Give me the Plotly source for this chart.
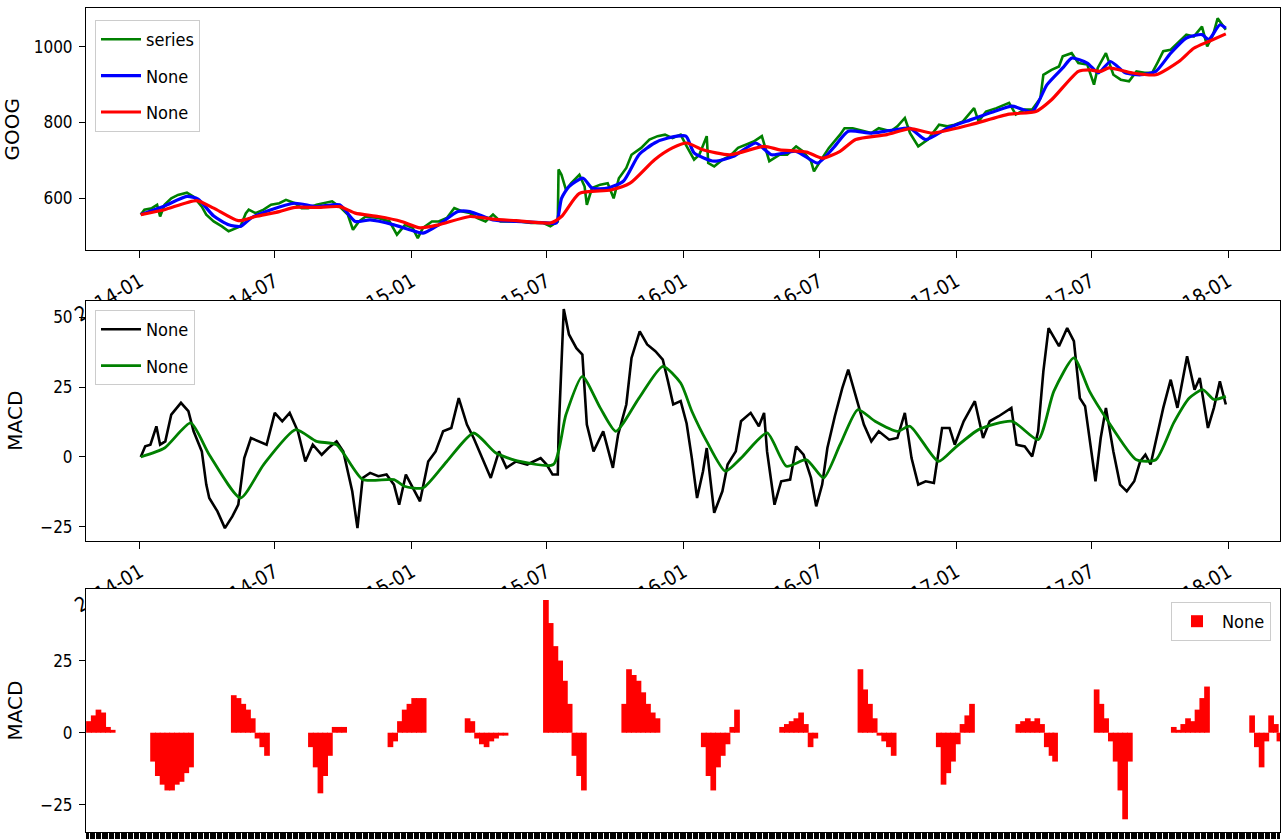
import plotly.graph_objects as go

# ---------------- data ----------------
price_dates = ["2014-01-02","2014-01-07","2014-01-17","2014-01-24","2014-01-28","2014-02-03","2014-02-12","2014-02-21",
"2014-03-05","2014-03-14","2014-03-25","2014-03-31","2014-04-10","2014-04-21","2014-04-30","2014-05-05","2014-05-16",
"2014-05-23","2014-05-27","2014-06-05","2014-06-16","2014-06-26","2014-07-07","2014-07-16","2014-07-28","2014-08-06",
"2014-08-15","2014-08-26","2014-09-05","2014-09-16","2014-09-26","2014-10-07","2014-10-14","2014-10-22","2014-10-31",
"2014-11-17","2014-12-02","2014-12-12","2014-12-23","2015-01-02","2015-01-09","2015-01-16","2015-01-28","2015-02-06",
"2015-02-17","2015-02-27","2015-03-10","2015-03-20","2015-03-30","2015-04-10","2015-04-20","2015-04-30","2015-05-11",
"2015-05-26","2015-06-10","2015-06-26","2015-07-06","2015-07-16","2015-07-17","2015-07-21","2015-07-27","2015-08-03",
"2015-08-14","2015-08-21","2015-08-24","2015-08-31","2015-09-11","2015-09-21","2015-09-29","2015-10-06","2015-10-16",
"2015-10-23","2015-11-05","2015-11-16","2015-11-27","2015-12-07","2015-12-17","2015-12-28","2016-01-04","2016-01-15",
"2016-01-22","2016-02-01","2016-02-03","2016-02-11","2016-02-22","2016-03-03","2016-03-14","2016-03-23","2016-04-04",
"2016-04-15","2016-04-25","2016-05-09","2016-05-19","2016-05-31","2016-06-09","2016-06-20","2016-06-24","2016-07-05",
"2016-07-14","2016-07-29","2016-08-04","2016-08-15","2016-08-30","2016-09-09","2016-09-19","2016-10-05","2016-10-14",
"2016-10-24","2016-10-31","2016-11-11","2016-11-24","2016-12-09","2016-12-20","2016-12-30","2017-01-10","2017-01-25",
"2017-01-31","2017-02-10","2017-02-24","2017-03-13","2017-03-22","2017-04-03","2017-04-13","2017-04-24","2017-04-28",
"2017-05-09","2017-05-19","2017-05-24","2017-06-05","2017-06-14","2017-06-26","2017-07-05","2017-07-10","2017-07-21",
"2017-07-31","2017-08-10","2017-08-21","2017-08-31","2017-09-11","2017-09-21","2017-09-28","2017-10-06","2017-10-16",
"2017-10-27","2017-11-06","2017-11-16","2017-11-27","2017-12-04","2017-12-12","2017-12-18","2017-12-26","2017-12-29"]
price_vals = [557,570,574,583,552,583,600,609,
615,604,578,557,539,526,513,517,526,
560,570,561,570,583,587,596,587,574,
574,583,587,592,578,557,517,539,552,
548,539,504,530,522,495,522,539,539,
548,574,565,561,548,539,557,539,539,
539,535,535,526,539,676,662,622,640,
662,631,583,627,636,640,600,653,680,
715,733,755,764,768,759,768,741,702,
715,764,693,684,702,711,733,741,750,
764,698,715,715,737,724,698,671,706,
733,768,785,785,777,772,785,777,790,
812,772,737,755,794,790,794,803,838,
803,829,838,852,821,834,834,864,926,
939,948,975,983,957,953,900,944,983,
926,913,909,935,931,931,957,988,992,
1014,1032,1027,1053,1001,1032,1075,1053,1045]

fast_dates = ["2014-01-02","2014-02-03","2014-03-05","2014-03-20","2014-04-10","2014-04-30","2014-05-16","2014-05-30",
"2014-06-26","2014-07-28","2014-08-26","2014-09-26","2014-10-17","2014-11-06","2014-12-08","2014-12-29","2015-01-16",
"2015-02-06","2015-03-04","2015-03-20","2015-04-20","2015-05-21","2015-07-01","2015-07-14","2015-07-21","2015-07-31",
"2015-08-19","2015-08-31","2015-09-21","2015-10-12","2015-11-02","2015-11-23","2015-12-11","2016-01-04","2016-01-15",
"2016-02-11","2016-03-08","2016-04-07","2016-04-28","2016-05-31","2016-06-29","2016-07-20","2016-08-09","2016-09-09",
"2016-10-10","2016-10-31","2016-11-21","2016-12-20","2017-01-20","2017-02-21","2017-03-17","2017-04-13","2017-05-03",
"2017-05-24","2017-06-05","2017-06-26","2017-07-11","2017-07-27","2017-08-16","2017-09-06","2017-09-26","2017-10-16",
"2017-11-06","2017-11-27","2017-12-06","2017-12-21","2017-12-29"]
fast_vals = [557,580,605,598,553,530,526,548,
570,587,578,583,539,543,530,517,508,
530,565,565,543,539,535,535,600,631,
653,627,627,645,715,746,759,764,720,
698,711,746,715,724,693,733,777,772,
781,785,755,785,807,829,843,829,900,
944,970,957,931,961,931,926,935,983,
1023,1032,1019,1058,1049]

slow_dates = ["2014-01-02","2014-02-03","2014-03-18","2014-04-10","2014-05-13","2014-06-05","2014-07-07","2014-07-28",
"2014-08-26","2014-09-26","2014-10-17","2014-11-17","2014-12-18","2015-01-12","2015-02-06","2015-03-20","2015-04-20",
"2015-05-21","2015-07-06","2015-07-21","2015-08-14","2015-09-25","2015-10-21","2015-11-23","2015-12-17","2016-01-05",
"2016-01-27","2016-03-03","2016-04-18","2016-05-09","2016-06-14","2016-07-05","2016-07-29","2016-08-19","2016-09-30",
"2016-10-31","2016-11-30","2017-01-20","2017-03-13","2017-04-18","2017-05-09","2017-06-14","2017-06-29","2017-07-14",
"2017-07-25","2017-08-25","2017-09-26","2017-10-27","2017-11-16","2017-12-06","2017-12-29"]
slow_vals = [557,570,594,574,541,552,565,576,
576,578,561,552,539,522,530,552,545,
541,535,552,613,622,640,702,733,746,
728,715,737,728,722,706,724,755,768,
784,772,794,822,829,860,935,939,935,
944,931,926,961,996,1014,1034]

macd_dates = ["2014-01-02","2014-01-08","2014-01-15","2014-01-23","2014-01-28","2014-02-04","2014-02-12","2014-02-25",
"2014-03-07","2014-03-14","2014-03-25","2014-03-31","2014-04-04","2014-04-15","2014-04-25","2014-05-05","2014-05-13",
"2014-05-21","2014-05-30","2014-06-10","2014-06-20","2014-07-01","2014-07-11","2014-07-21","2014-08-01","2014-08-11",
"2014-08-21","2014-09-02","2014-09-11","2014-09-22","2014-10-01","2014-10-13","2014-10-20","2014-10-27","2014-11-06",
"2014-11-17","2014-11-28","2014-12-08","2014-12-15","2014-12-24","2015-01-02","2015-01-12","2015-01-23","2015-02-02",
"2015-02-12","2015-02-23","2015-03-05","2015-03-16","2015-03-25","2015-04-06","2015-04-17","2015-04-28","2015-05-08",
"2015-05-21","2015-06-05","2015-06-23","2015-07-01","2015-07-09","2015-07-16","2015-07-17","2015-07-24","2015-07-31",
"2015-08-10","2015-08-18","2015-08-24","2015-09-02","2015-09-15","2015-09-28","2015-10-05","2015-10-16","2015-10-23",
"2015-11-03","2015-11-13","2015-11-24","2015-12-04","2015-12-11","2015-12-18","2015-12-28","2016-01-05","2016-01-12",
"2016-01-19","2016-01-27","2016-02-01","2016-02-11","2016-02-22","2016-02-29","2016-03-11","2016-03-18","2016-03-31",
"2016-04-11","2016-04-18","2016-04-22","2016-05-02","2016-05-11","2016-05-23","2016-05-31","2016-06-10","2016-06-20",
"2016-06-27","2016-07-05","2016-07-12","2016-07-22","2016-08-01","2016-08-09","2016-08-19","2016-08-30","2016-09-09",
"2016-09-19","2016-10-03","2016-10-14","2016-10-24","2016-11-02","2016-11-11","2016-11-21","2016-12-02","2016-12-13",
"2016-12-23","2016-12-30","2017-01-11","2017-01-26","2017-02-06","2017-02-15","2017-02-27","2017-03-06","2017-03-16",
"2017-03-23","2017-04-03","2017-04-13","2017-04-21","2017-04-28","2017-05-05","2017-05-19","2017-05-30","2017-06-08",
"2017-06-16","2017-06-23","2017-07-07","2017-07-14","2017-07-21","2017-07-31","2017-08-09","2017-08-18","2017-08-28",
"2017-09-05","2017-09-12","2017-09-19","2017-09-29","2017-10-06","2017-10-16","2017-10-25","2017-11-07","2017-11-17",
"2017-11-24","2017-12-05","2017-12-13","2017-12-21","2017-12-29"]
macd_vals = [0,3.8,4.4,11,4.4,5.6,15.2,19.4,
16.4,9.2,2,-9.9,-14.7,-19.5,-25.5,-21.3,-17.1,
-0.4,6.8,5.6,4.4,15.8,12.8,15.8,9.2,-1.6,
4.4,0.8,3.2,5.6,2,-12.3,-25.5,-7.5,-5.7,
-6.9,-6.3,-9.9,-17.1,-6.3,-11.1,-15.9,-1.6,2,
9.2,10.4,21.1,11.6,6.8,-0.4,-7.5,2,-3.9,
-1.6,-2.7,-0.4,-2.7,-6.3,-6.3,8,53,43.9,
39,36.7,11.6,2,9.2,-3.9,8,18.8,35.5,
45,40.3,37.9,34.9,27.1,18.8,20,12,-0.4,
-14.7,-5.1,3.2,-20,-12.3,-2.7,2,12.8,15.8,
11,15.8,2,-17.1,-8.7,-8.1,3.8,0.8,-7.5,
-17.7,-9.9,3.2,14.6,24.7,31.3,22.3,11.6,5.6,
9.2,6.2,6.8,15.8,-0.4,-9.9,-8.7,-9.3,10.4,
10.4,4.4,12.8,20,6.8,12.8,14.6,15.8,17.6,
4.4,3.8,0.2,9.2,30.7,46.2,39.7,46.2,41.5,
21.1,18.2,-8.7,6.8,17.6,2,-9.9,-12.3,-8.7,
-1.6,0.8,-2.7,9.2,17.6,27.7,17.6,36.1,24.1,
28.3,10.4,17.6,27.1,18.8]

signal_dates = ["2014-01-02","2014-02-03","2014-03-10","2014-04-04","2014-05-16","2014-06-16","2014-07-29","2014-08-26",
"2014-09-22","2014-10-27","2014-12-08","2014-12-22","2015-01-16","2015-02-17","2015-03-25","2015-04-24","2015-05-26",
"2015-07-10","2015-07-27","2015-08-18","2015-09-11","2015-10-02","2015-11-02","2015-12-04","2015-12-28","2016-01-12",
"2016-02-01","2016-02-26","2016-03-18","2016-04-22","2016-05-18","2016-06-14","2016-07-07","2016-07-29","2016-08-22",
"2016-09-14","2016-10-14","2016-10-31","2016-12-08","2016-12-30","2017-01-31","2017-03-17","2017-04-21","2017-05-12",
"2017-06-08","2017-06-29","2017-07-21","2017-08-31","2017-09-26","2017-10-20","2017-11-10","2017-11-28","2017-12-13",
"2017-12-29"]
signal_vals = [0,3.2,12.2,0.8,-14.7,-2.7,9.8,5.6,
4.4,-8.1,-8.1,-10.5,-11.1,-1.6,8.6,1.4,-1.6,
-2.7,15.2,28.9,17.6,9.2,21.1,32.5,26.5,16.4,
5.6,-5.1,-0.4,8.6,-3.3,-1,-7.5,4.4,17,
12.8,9.2,11,-1.6,3.2,9.8,12.8,6.2,23.5,
35.5,23.5,14,-1,-1,12.2,21.1,24.1,20.6,
21.7]

# histogram bars: position on the trading-day axis and height
hist_idx = [2,6,10,14,18,22,
56,60,64,68,72,76,80,84,88,
124,128,132,136,140,144,148,152,
189,193,197,201,205,209,213,217,
256,260,264,268,272,276,280,284,
321,325,329,333,337,341,345,349,353,
387,391,395,399,403,407,411,415,419,
453,457,461,465,469,473,477,481,
520,524,528,532,536,540,544,548,
586,590,594,598,602,606,610,614,
652,656,660,664,668,672,676,680,
718,722,726,730,734,738,742,746,
785,789,793,797,801,805,809,813,816,
851,855,859,863,867,871,875,879,
916,920,924,928,932,936,940,944,
982,986,990,994,998,1002,1005]
hist_vals = [4,6,8,7,2,1,
-10,-15,-18,-20,-20,-18,-17,-14,-12,
13,12,10,8,5,-2,-5,-8,
-5,-12,-21,-15,-8,2,2,2,
-5,-3,4,8,10,12,12,12,
5,4,-2,-4,-5,-3,-2,-1,-1,
46,38,30,25,18,10,-8,-15,-20,
10,22,20,18,14,10,7,5,
-5,-15,-20,-12,-8,-4,2,8,
2,3,4,5,7,3,-5,-2,
22,15,10,5,-1,-3,-5,-8,
-5,-18,-14,-10,-4,3,6,10,
3,4,5,4,5,3,-5,-8,-10,
15,10,5,-3,-10,-20,-30,-10,
2,1,3,5,4,8,12,16,
6,-5,-12,-3,6,3,-3]
N_DAYS = 1006

x_ticks = ["2014-01-01","2014-07-01","2015-01-01","2015-07-01","2016-01-01",
           "2016-07-01","2017-01-01","2017-07-01","2018-01-01"]
x_ticktext = ["2014-01","2014-07","2015-01","2015-07","2016-01","2016-07","2017-01","2017-07","2018-01"]

# ---------------- figure ----------------
W, H = 1285, 839
NARROW = "DejaVu Sans Condensed, Liberation Sans Narrow, DejaVu Sans, sans-serif"
WIDE = "DejaVu Sans, Verdana, sans-serif"

fig = go.Figure()
fig.add_trace(go.Scatter(x=price_dates, y=price_vals, mode="lines", name="series",
                         line=dict(color="#008000", width=2.6), xaxis="x", yaxis="y",
                         legend="legend", legendgroup="g1"))
fig.add_trace(go.Scatter(x=fast_dates, y=fast_vals, mode="lines", name="None",
                         line=dict(color="#0000ff", width=3.2, shape="spline", smoothing=0.6),
                         xaxis="x", yaxis="y", legend="legend", legendgroup="g2"))
fig.add_trace(go.Scatter(x=slow_dates, y=slow_vals, mode="lines", name="None",
                         line=dict(color="#ff0000", width=3.2, shape="spline", smoothing=0.6),
                         xaxis="x", yaxis="y", legend="legend", legendgroup="g3"))
fig.add_trace(go.Scatter(x=macd_dates, y=macd_vals, mode="lines", name="None",
                         line=dict(color="#000000", width=2.6), xaxis="x2", yaxis="y2",
                         legend="legend2", legendgroup="g4"))
fig.add_trace(go.Scatter(x=signal_dates, y=signal_vals, mode="lines", name="None",
                         line=dict(color="#008000", width=2.8, shape="spline", smoothing=0.6),
                         xaxis="x2", yaxis="y2", legend="legend2", legendgroup="g5"))
fig.add_trace(go.Bar(x=hist_idx, y=hist_vals, width=4.8, name="None",
                     marker=dict(color="#ff0000", line=dict(width=0)),
                     xaxis="x3", yaxis="y3", legend="legend3"))

xdom = [86 / W, 1280 / W]
def ydom(top, bottom):
    return [1 - bottom / H, 1 - top / H]

tickfont = dict(family=NARROW, size=17, color="#000000")
xtickfont = dict(family=NARROW, size=20, color="#000000")
legfont = dict(family=NARROW, size=18, color="#000000")
titlefont = dict(family=WIDE, size=20, color="#000000")
common = dict(showline=True, linecolor="#000000", linewidth=1, mirror=True, automargin=False,
              ticks="outside", tickcolor="#000000", showgrid=False, zeroline=False)

date_axis = dict(common, type="date", range=["2013-10-20 12:00", "2018-03-11 18:00"],
                 tickmode="array", tickvals=x_ticks, ticktext=x_ticktext,
                 tickangle=-30, ticklen=7, tickfont=xtickfont, ticklabelstandoff=4, domain=xdom)

legend_common = dict(xanchor="left", yanchor="top", bgcolor="white", bordercolor="#cccccc",
                     borderwidth=1, font=legfont, itemwidth=40)

fig.update_layout(
    width=W, height=H,
    margin=dict(l=0, r=0, t=0, b=0, autoexpand=False),
    paper_bgcolor="white", plot_bgcolor="white",
    showlegend=True, barmode="overlay",
    xaxis=dict(date_axis, anchor="y"),
    xaxis2=dict(date_axis, anchor="y2"),
    xaxis3=dict(common, type="linear", range=[-0.5, N_DAYS - 0.5], anchor="y3", domain=xdom,
                tickmode="array", tickvals=list(range(N_DAYS)), showticklabels=False,
                ticklen=9, tickwidth=1),
    yaxis=dict(common, domain=ydom(8.3, 250), range=[463.6, 1101.4], anchor="x",
               tickvals=[600, 800, 1000], ticklen=6, tickfont=tickfont, ticklabelstandoff=3,
               title=dict(text="GOOG", font=titlefont, standoff=12)),
    yaxis2=dict(common, domain=ydom(300.7, 540.7), range=[-30, 56], anchor="x2",
                tickvals=[-25, 0, 25, 50], ticklen=6, tickfont=tickfont, ticklabelstandoff=3,
                title=dict(text="MACD", font=titlefont, standoff=12)),
    yaxis3=dict(common, domain=ydom(589, 832), range=[-34.4, 49.8], anchor="x3",
                tickvals=[-25, 0, 25], ticklen=6, tickfont=tickfont, ticklabelstandoff=3,
                title=dict(text="MACD", font=titlefont, standoff=12)),
    legend=dict(legend_common, x=95 / W, y=1 - 20 / H, tracegroupgap=10),
    legend2=dict(legend_common, x=95 / W, y=1 - 310 / H, tracegroupgap=10),
    legend3=dict(legend_common, x=1171 / W, y=1 - 602 / H),
    shapes=[
        # plot-area backgrounds of the lower panels, drawn inside those subplots so they
        # cover the rotated tick labels of the panel above (as in the reference)
        dict(type="rect", xref="x2", yref="y2", x0="2012-01-01", x1="2020-01-01", y0=-1000, y1=1000,
             fillcolor="white", line=dict(width=0), layer="below"),
        dict(type="rect", xref="x3", yref="y3", x0=-100, x1=N_DAYS + 100, y0=-1000, y1=1000,
             fillcolor="white", line=dict(width=0), layer="below"),
    ],
)

fig.write_html("out.html", config={"displayModeBar": False},
               post_script="document.body.style.margin='0px';document.body.style.overflow='hidden';")
